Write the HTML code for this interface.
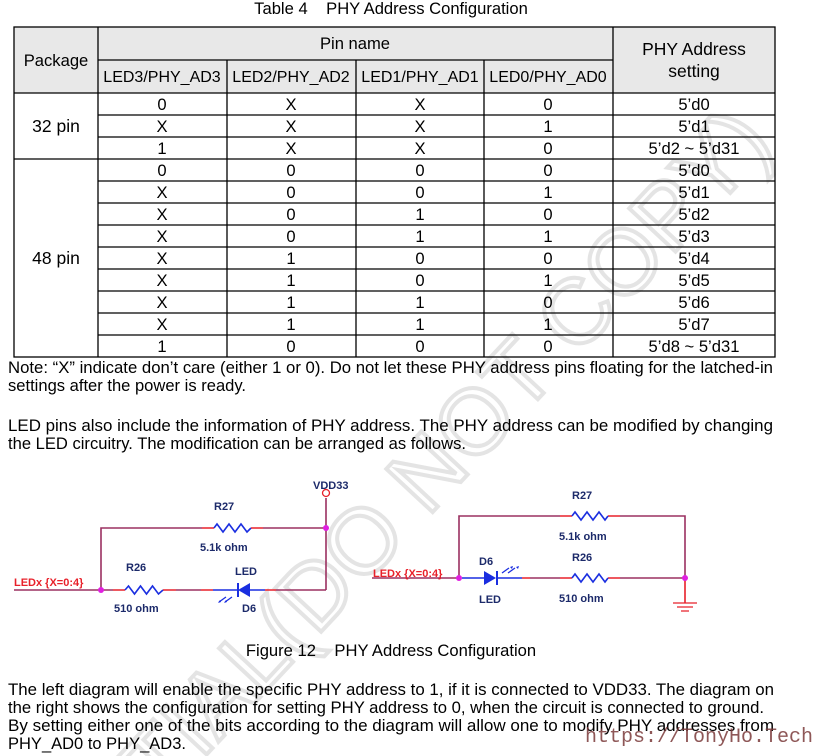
<!DOCTYPE html>
<html><head><meta charset="utf-8"><style>
html,body{margin:0;padding:0;background:#fff;overflow:hidden;width:822px;height:756px}
svg{display:block}
text{font-family:"Liberation Sans",Arial,sans-serif}
.t{font-size:16.6px;fill:#000}
.w{stroke:#9b3060;stroke-width:1.6;fill:none}
.r{stroke:#e8202a;stroke-width:1.6;fill:none}
.b{stroke:#1a2ee0;stroke-width:1.6;fill:none}
.lb{font-size:11px;font-weight:bold;fill:#1c2a6a}
</style></head><body>
<svg width="822" height="756" viewBox="0 0 822 756" xmlns="http://www.w3.org/2000/svg">
<text x="775" y="145" text-anchor="end" transform="rotate(-47 775 145)" font-size="92" fill="none" stroke="#e4e4e4" stroke-width="4" style="font-family:'Liberation Sans',sans-serif">CONFIDENTIAL(DO NOT COPY)</text>

<text class="t" x="391" y="14" text-anchor="middle" font-size="15.5">Table 4&#160;&#160;&#160; PHY Address Configuration</text>
<rect x="14" y="27" width="761" height="66" fill="#e8e8e8"/>
<g stroke="#000" stroke-width="1.3" fill="none">
<rect x="14" y="27" width="761" height="330"/>
<line x1="98" y1="27" x2="98" y2="357"/>
<line x1="613" y1="27" x2="613" y2="357"/>
<line x1="98" y1="60" x2="613" y2="60"/>
<line x1="227" y1="60" x2="227" y2="357"/>
<line x1="356" y1="60" x2="356" y2="357"/>
<line x1="484" y1="60" x2="484" y2="357"/>
<line x1="14" y1="93" x2="775" y2="93"/>
<line x1="98" y1="115" x2="775" y2="115"/>
<line x1="98" y1="137" x2="775" y2="137"/>
<line x1="14" y1="159" x2="775" y2="159"/>
<line x1="98" y1="181" x2="775" y2="181"/>
<line x1="98" y1="203" x2="775" y2="203"/>
<line x1="98" y1="225" x2="775" y2="225"/>
<line x1="98" y1="247" x2="775" y2="247"/>
<line x1="98" y1="269" x2="775" y2="269"/>
<line x1="98" y1="291" x2="775" y2="291"/>
<line x1="98" y1="313" x2="775" y2="313"/>
<line x1="98" y1="335" x2="775" y2="335"/>
</g>
<g class="t" text-anchor="middle" font-size="16.6">
<text x="56" y="66">Package</text>
<text x="355" y="49">Pin name</text>
<text x="162" y="82" font-size="16">LED3/PHY_AD3</text>
<text x="291" y="82" font-size="16">LED2/PHY_AD2</text>
<text x="420" y="82" font-size="16">LED1/PHY_AD1</text>
<text x="548" y="82" font-size="16">LED0/PHY_AD0</text>
<text x="694" y="55" font-size="17.5">PHY Address</text>
<text x="694" y="77" font-size="17.5">setting</text>
<text x="56" y="132" font-size="17.5">32 pin</text>
<text x="56" y="264" font-size="17.5">48 pin</text>
</g>
<g class="t" text-anchor="middle" font-size="17">
<text x="162" y="110">0</text><text x="291" y="110">X</text><text x="420" y="110">X</text><text x="548" y="110">0</text><text x="694" y="110">5’d0</text>
<text x="162" y="132">X</text><text x="291" y="132">X</text><text x="420" y="132">X</text><text x="548" y="132">1</text><text x="694" y="132">5’d1</text>
<text x="162" y="154">1</text><text x="291" y="154">X</text><text x="420" y="154">X</text><text x="548" y="154">0</text><text x="694" y="154">5’d2 ~ 5’d31</text>
<text x="162" y="176">0</text><text x="291" y="176">0</text><text x="420" y="176">0</text><text x="548" y="176">0</text><text x="694" y="176">5’d0</text>
<text x="162" y="198">X</text><text x="291" y="198">0</text><text x="420" y="198">0</text><text x="548" y="198">1</text><text x="694" y="198">5’d1</text>
<text x="162" y="220">X</text><text x="291" y="220">0</text><text x="420" y="220">1</text><text x="548" y="220">0</text><text x="694" y="220">5’d2</text>
<text x="162" y="242">X</text><text x="291" y="242">0</text><text x="420" y="242">1</text><text x="548" y="242">1</text><text x="694" y="242">5’d3</text>
<text x="162" y="264">X</text><text x="291" y="264">1</text><text x="420" y="264">0</text><text x="548" y="264">0</text><text x="694" y="264">5’d4</text>
<text x="162" y="286">X</text><text x="291" y="286">1</text><text x="420" y="286">0</text><text x="548" y="286">1</text><text x="694" y="286">5’d5</text>
<text x="162" y="308">X</text><text x="291" y="308">1</text><text x="420" y="308">1</text><text x="548" y="308">0</text><text x="694" y="308">5’d6</text>
<text x="162" y="330">X</text><text x="291" y="330">1</text><text x="420" y="330">1</text><text x="548" y="330">1</text><text x="694" y="330">5’d7</text>
<text x="162" y="352">1</text><text x="291" y="352">0</text><text x="420" y="352">0</text><text x="548" y="352">0</text><text x="694" y="352">5’d8 ~ 5’d31</text>
</g>
<g class="t">
<text x="8" y="373" textLength="765" lengthAdjust="spacingAndGlyphs">Note: “X” indicate don’t care (either 1 or 0). Do not let these PHY address pins floating for the latched-in</text>
<text x="8" y="391" textLength="238" lengthAdjust="spacingAndGlyphs">settings after the power is ready.</text>
<text x="8" y="431" textLength="765" lengthAdjust="spacingAndGlyphs">LED pins also include the information of PHY address. The PHY address can be modified by changing</text>
<text x="8" y="449" textLength="458" lengthAdjust="spacingAndGlyphs">the LED circuitry. The modification can be arranged as follows.</text>
<text x="391" y="656" text-anchor="middle">Figure 12&#160;&#160;&#160; PHY Address Configuration</text>
<text x="8" y="695" textLength="766" lengthAdjust="spacingAndGlyphs">The left diagram will enable the specific PHY address to 1, if it is connected to VDD33. The diagram on</text>
<text x="8" y="713" textLength="756" lengthAdjust="spacingAndGlyphs">the right shows the configuration for setting PHY address to 0, when the circuit is connected to ground.</text>
<text x="8" y="731" textLength="766" lengthAdjust="spacingAndGlyphs">By setting either one of the bits according to the diagram will allow one to modify PHY addresses from</text>
<text x="8" y="749" textLength="178" lengthAdjust="spacingAndGlyphs">PHY_AD0 to PHY_AD3.</text>
</g>

<path class="w" d="M14 590H113 M101 590V528H202 M263 528H326 M176 590H201 M276 590H326 M326 498V590"/>
<path class="r" d="M113 590H125 M163 590H176 M201 590H213 M265 590H276 M202 528H214 M251 528H263"/>
<path class="b" d="M125 590l3.5 -4 6 8 6 -8 6 8 6 -8 6 8 4.5 -4 M214 528l3 -4 6 8 6 -8 6 8 6 -8 6 8 4 -4"/>
<path class="b" d="M213 590H238 M250 590H265"/>
<path d="M238 590L250 583V597Z" fill="#1a2ee0"/><line x1="238" y1="583" x2="238" y2="597" stroke="#1a2ee0" stroke-width="2"/>
<path d="M226 597l-7 5 M232 597l-7 5" stroke="#1a2ee0" stroke-width="1.3"/>
<path d="M218 603l3-1 -1 -2z M224 603l3-1 -1-2z" fill="#1a2ee0"/>
<circle cx="326" cy="493" r="3.5" fill="#fff" stroke="#e8202a" stroke-width="1.3"/>
<circle cx="101" cy="590" r="3" fill="#e020e0"/><circle cx="326" cy="528" r="3" fill="#e020e0"/>
<text class="lb" x="313" y="489">VDD33</text>
<text class="lb" x="214" y="510">R27</text>
<text class="lb" x="200" y="551">5.1k ohm</text>
<text class="lb" x="126" y="571">R26</text>
<text class="lb" x="114" y="612">510 ohm</text>
<text class="lb" x="235" y="575">LED</text>
<text class="lb" x="242" y="612">D6</text>
<text x="14" y="586" font-size="11" font-weight="bold" fill="#e8202a">LEDx {X=0:4}</text>

<path class="w" d="M372 578H459 M459 578V516H560 M620 516H685V578 M530 578H560 M620 578H685"/>
<path class="r" d="M560 516H572 M608 516H620 M560 578H572 M608 578H620 M522 578H530 M685 578V603"/>
<path class="b" d="M572 516l3 -4 6 8 6 -8 6 8 6 -8 6 8 3 -4 M572 578l3 -4 6 8 6 -8 6 8 6 -8 6 8 3 -4"/>
<path class="b" d="M462 578H484 M496 578H522"/>
<path d="M496 578L484 571V585Z" fill="#1a2ee0"/><line x1="497" y1="571" x2="497" y2="585" stroke="#1a2ee0" stroke-width="2"/>
<path d="M502 573l7 -5 M508 573l7 -5" stroke="#1a2ee0" stroke-width="1.3"/>
<path d="M510 567l3-1 -1 3z M516 567l3-1 -1 3z" fill="#1a2ee0"/>
<path d="M673 603H697 M677 607H693 M681 611H689" stroke="#e8202a" stroke-width="1.3"/>
<circle cx="459" cy="578" r="3" fill="#e020e0"/><circle cx="685" cy="578" r="3" fill="#e020e0"/>
<text class="lb" x="572" y="499">R27</text>
<text class="lb" x="559" y="540">5.1k ohm</text>
<text class="lb" x="572" y="561">R26</text>
<text class="lb" x="559" y="602">510 ohm</text>
<text class="lb" x="479" y="565">D6</text>
<text class="lb" x="479" y="603">LED</text>
<text x="373" y="577" font-size="11" font-weight="bold" fill="#e8202a">LEDx {X=0:4}</text>

<text x="585" y="742" font-size="20" fill="#7a3a3a" fill-opacity="0.85" style="font-family:'Liberation Mono',monospace">https://TonyHo.Tech</text>
</svg>
</body></html>
